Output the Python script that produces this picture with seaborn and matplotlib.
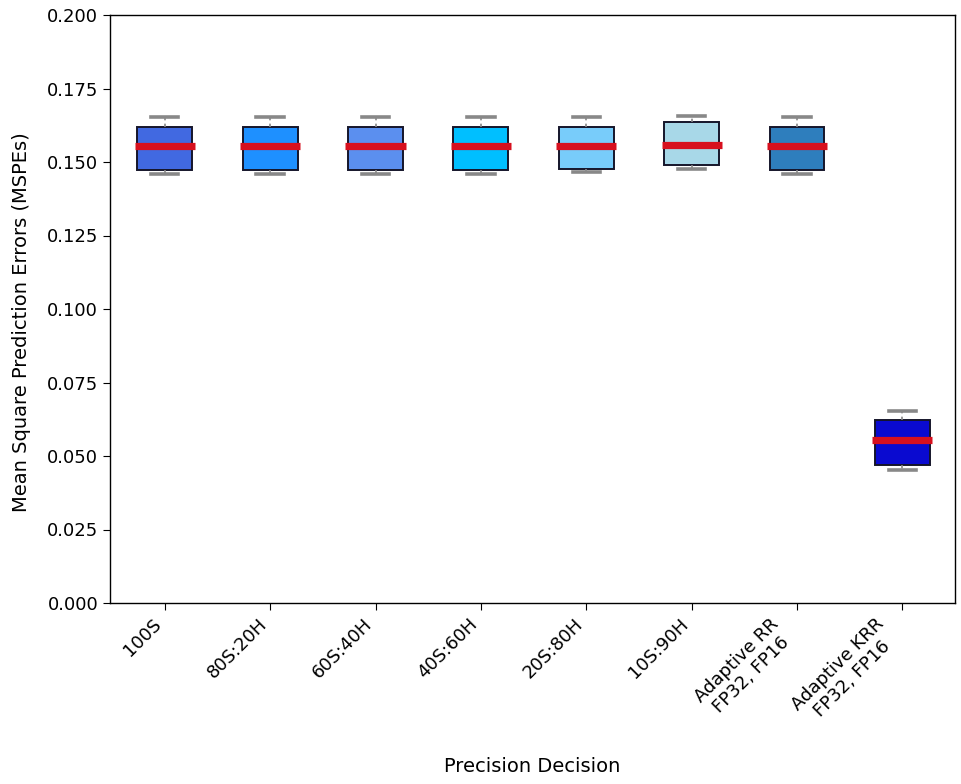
import matplotlib
matplotlib.use("Agg")
import matplotlib.pyplot as plt
import seaborn as sns
import pandas as pd

categories = ["100S", "80S:20H", "60S:40H", "40S:60H", "20S:80H", "10S:90H",
              "Adaptive RR\nFP32, FP16", "Adaptive KRR\nFP32, FP16"]
# five-number summaries per category: [min, q1, median, q3, max]
v_100S   = [0.1459, 0.1473, 0.1554, 0.1619, 0.1653]
v_80S20H = [0.1459, 0.1473, 0.1554, 0.1619, 0.1653]
v_60S40H = [0.1459, 0.1473, 0.1554, 0.1619, 0.1653]
v_40S60H = [0.1459, 0.1473, 0.1554, 0.1619, 0.1653]
v_20S80H = [0.1466, 0.1476, 0.1554, 0.1619, 0.1653]
v_10S90H = [0.1476, 0.1490, 0.1558, 0.1636, 0.1656]
v_ARR    = [0.1459, 0.1473, 0.1554, 0.1619, 0.1653]
v_AKRR   = [0.0452, 0.0469, 0.0554, 0.0622, 0.0653]
colors = ["#4169E1", "#1E90FF", "#5B8FEF", "#00BFFF", "#78CCFA", "#A8D8E8", "#2E7EBD", "#0A0AD0"]
yticks = [0, 0.025, 0.05, 0.075, 0.1, 0.125, 0.15, 0.175, 0.2]

series = [v_100S, v_80S20H, v_60S40H, v_40S60H, v_20S80H, v_10S90H, v_ARR, v_AKRR]
rows = []
for c, vals in zip(categories, series):
    for v in vals:
        rows.append({"Precision Decision": c, "MSPE": v})
df = pd.DataFrame(rows)

fig = plt.figure(figsize=(9.61, 7.84), dpi=100)
ax = fig.add_axes([110/961, 1-603/784, (955-110)/961, (603-15)/784])
sns.boxplot(data=df, x="Precision Decision", y="MSPE", hue="Precision Decision",
            palette=colors, legend=False, width=0.52, ax=ax, whis=10,
            boxprops=dict(edgecolor="#15152a", linewidth=1.4),
            medianprops=dict(color="#D7101E", linewidth=5.2, solid_capstyle="butt"),
            whiskerprops=dict(color="#888888", linewidth=1.2, linestyle=(0, (2, 2))),
            capprops=dict(color="#888888", linewidth=2.6),
            showfliers=False, saturation=1)
# medians stick out slightly past the box edges
for cont in ax.containers:
    meds = getattr(cont, "medians", None)
    if meds is None:
        continue
    for m in (meds if isinstance(meds, (list, tuple)) else [meds]):
        xd = list(m.get_xdata())
        if len(xd) == 2:
            lo, hi = min(xd), max(xd)
            m.set_xdata([lo - 0.025, hi + 0.025])
ax.set_ylim(0, 0.2)
ax.set_xlim(-0.52, 7.5)
ax.set_yticks(yticks)
ax.set_yticklabels([f"{t:.3f}" for t in yticks])
ax.tick_params(axis="both", labelsize=13, length=5)
plt.setp(ax.get_xticklabels(), rotation=45, ha="right", multialignment="center")
ax.set_xlabel("")
ax.set_ylabel("")
fig.text(532/961, 1-766/784, "Precision Decision", fontsize=14, ha="center", va="center")
fig.text(22/961, 1-(130+515)/2/784, "Mean Square Prediction Errors (MSPEs)", fontsize=14,
         ha="center", va="center", rotation=90)
for s in ax.spines.values():
    s.set_color("black")
    s.set_linewidth(1.0)
fig.savefig("out.png", dpi=100)
